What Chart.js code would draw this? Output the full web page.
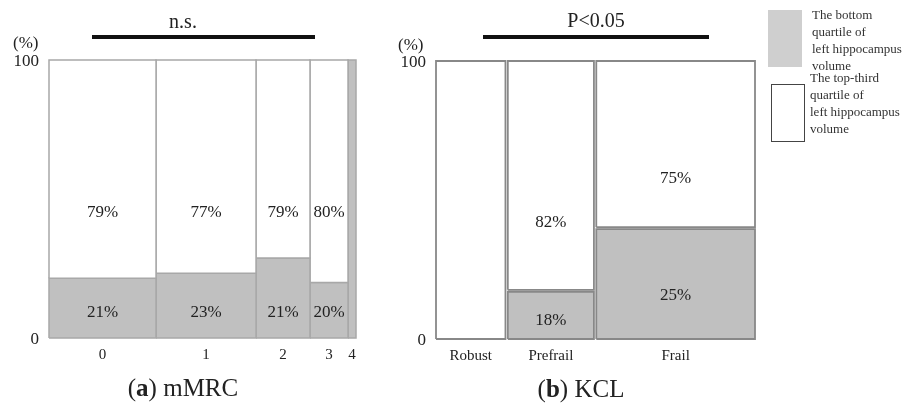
<!DOCTYPE html>
<html>
<head>
<meta charset="utf-8">
<script src="https://cdn.jsdelivr.net/npm/chart.js@4.4.0/dist/chart.umd.min.js"></script>
<style>
  body{margin:0;background:#fff;font-family:"Liberation Serif",serif;color:#222}
  #wrap{position:relative;width:912px;height:411px;overflow:hidden}
  canvas{position:absolute;top:0}
  .t{position:absolute;white-space:nowrap;line-height:1}
  .bar{position:absolute;height:3.5px;background:#111}
  .leg{position:absolute;font-size:13px;line-height:17px;color:#333}
</style>
</head>
<body>
<div id="wrap">
  <canvas id="mmrc" width="380" height="411" style="left:0"></canvas>
  <canvas id="kcl" width="390" height="411" style="left:380px"></canvas>

  <div class="t" style="left:183px;top:11px;font-size:20px;transform:translateX(-50%)">n.s.</div>
  <div class="bar" style="left:92px;top:35px;width:223px"></div>
  <div class="t" style="left:13px;top:34px;font-size:17px">(%)</div>
  <div class="t" style="left:183px;top:375px;font-size:25px;transform:translateX(-50%)">(<b>a</b>) mMRC</div>

  <div class="t" style="left:596px;top:10px;font-size:20px;transform:translateX(-50%)">P&lt;0.05</div>
  <div class="bar" style="left:483px;top:35px;width:226px"></div>
  <div class="t" style="left:398px;top:36px;font-size:17px">(%)</div>
  <div class="t" style="left:581px;top:376px;font-size:25px;transform:translateX(-50%)">(<b>b</b>) KCL</div>

  <div style="position:absolute;left:768px;top:10px;width:34px;height:57px;background:#cfcfcf"></div>
  <div class="leg" style="left:812px;top:6px">The bottom<br>quartile of<br>left hippocampus<br>volume</div>
  <div style="position:absolute;left:771px;top:84px;width:32px;height:56px;border:1px solid #444"></div>
  <div class="leg" style="left:810px;top:69px">The top-third<br>quartile of<br>left hippocampus<br>volume</div>
</div>

<script>
// mMRC grade: share of subjects per grade (%), height of bottom-quartile block (%)
const mmrcCats = ['0', '1', '2', '3', '4'];
const mmrcShare = [34.9, 32.6, 17.6, 12.4, 2.6];
const mmrcBottom = [21.5, 23.3, 28.8, 20, 100];
const mmrcTopText = ['79%', '77%', '79%', '80%', ''];
const mmrcBottomText = ['21%', '23%', '21%', '20%', ''];

// KCL frailty groups
const kclCats = ['Robust', 'Prefrail', 'Frail'];
const kclShare = [22.1, 27.4, 50.5];
const kclBottom = [0, 17, 39.5];
const kclTopText = ['', '82%', '75%'];
const kclBottomText = ['', '18%', '25%'];

const yTicks = [0, 100];
const serif = 'Liberation Serif';

function box(x0, x1, y0, y1){
  return [{x:x0,y:y0},{x:x0,y:y1},{x:x1,y:y1},{x:x1,y:y0},{x:x0,y:y0}];
}

function mosaic(id, cats, share, low, topText, lowText, o){
  const starts = [];
  let acc = 0;
  share.forEach((w, i) => { starts.push(acc); acc += w + (i < share.length - 1 ? o.gap : 0); });
  const centers = starts.map((s, i) => s + share[i] / 2);

  const datasets = [];
  cats.forEach((c, i) => {
    const x0 = starts[i], x1 = x0 + share[i];
    if (low[i] < 100) datasets.push({ label: c + ' top', data: box(x0, x1, low[i] > 0 ? low[i] + o.vgap : 0, 100), backgroundColor: '#ffffff' });
    if (low[i] > 0) datasets.push({ label: c + ' bottom', data: box(x0, x1, 0, low[i]), backgroundColor: '#c0c0c0' });
  });
  datasets.forEach(d => Object.assign(d, {
    fill: 'shape', borderColor: o.border, borderWidth: o.bw,
    pointRadius: 0, pointHoverRadius: 0, tension: 0, clip: false
  }));

  const pctLabels = {
    id: 'pctLabels',
    afterDatasetsDraw(chart){
      const { ctx, scales: { x, y } } = chart;
      ctx.save();
      ctx.font = '17px "' + serif + '"';
      ctx.fillStyle = '#222';
      ctx.textAlign = 'center';
      ctx.textBaseline = 'middle';
      cats.forEach((c, i) => {
        const cx = x.getPixelForValue(centers[i]);
        if (topText[i]) ctx.fillText(topText[i], cx, y.getPixelForValue(o.topY(low[i])));
        if (lowText[i]) ctx.fillText(lowText[i], cx, y.getPixelForValue(o.lowY(low[i])));
      });
      ctx.restore();
    }
  };

  return new Chart(document.getElementById(id), {
    type: 'line',
    data: { datasets },
    plugins: [pctLabels],
    options: {
      responsive: false,
      animation: false,
      events: [],
      layout: { padding: { left: 0, right: o.pr, top: o.pt, bottom: 0 } },
      plugins: { legend: { display: false }, tooltip: { enabled: false } },
      scales: {
        x: {
          type: 'linear', min: 0, max: acc,
          grid: { display: false, drawTicks: false }, border: { display: false },
          afterBuildTicks: s => { s.ticks = centers.map(v => ({ value: v })); },
          afterFit: s => { s.height = o.xh; },
          ticks: { autoSkip: false, maxRotation: 0, padding: 8, color: '#222',
                   font: { family: serif, size: 15 }, callback: (v, i) => cats[i] }
        },
        y: {
          min: 0, max: 100,
          grid: { display: false, drawTicks: false }, border: { display: false },
          afterBuildTicks: s => { s.ticks = yTicks.map(v => ({ value: v })); },
          afterFit: s => { s.width = o.yw; },
          ticks: { padding: 10, labelOffset: 1.5, color: '#222', font: { family: serif, size: 17 } }
        }
      }
    }
  });
}

mosaic('mmrc', mmrcCats, mmrcShare, mmrcBottom, mmrcTopText, mmrcBottomText, {
  gap: 0, vgap: 0, border: '#a8a8a8', bw: 1.5,
  yw: 49, pr: 24, pt: 60, xh: 73,
  topY: () => 45, lowY: () => 9
});

mosaic('kcl', kclCats, kclShare, kclBottom, kclTopText, kclBottomText, {
  gap: 0.75, vgap: 0.7, border: '#888888', bw: 1.8,
  yw: 56, pr: 15, pt: 61, xh: 72,
  topY: b => b + (100 - b) * 0.3, lowY: b => b * 0.4
});
</script>
</body>
</html>
